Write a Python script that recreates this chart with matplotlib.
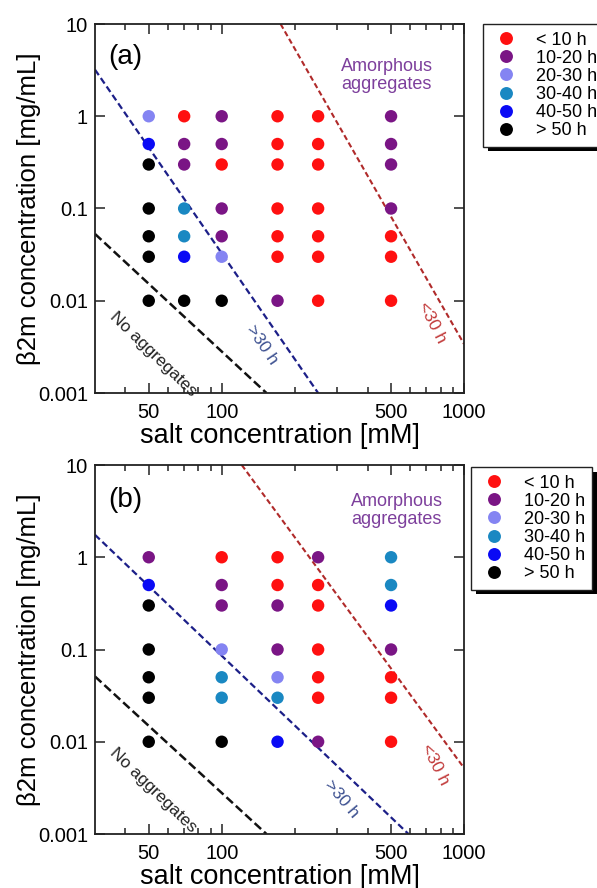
"""Aggregation phase diagrams of beta2m vs salt concentration, panels (a) and (b)."""
import matplotlib
matplotlib.use("Agg")
import matplotlib.pyplot as plt
from matplotlib.lines import Line2D
from matplotlib import ticker, patheffects

plt.rcParams["font.family"] = ["Liberation Sans", "DejaVu Sans"]

# lag-time classes
CLASS_LABELS = ["< 10 h", "10-20 h", "20-30 h", "30-40 h", "40-50 h", "> 50 h"]
CLASS_COLORS = ["#ff1010", "#7a1585", "#8484f2", "#1a88c2", "#0a0af5", "#000000"]

# protein concentrations (mg/mL), same rows for every salt level
protein = [1, 0.5, 0.3, 0.1, 0.05, 0.03, 0.01]

# panel (a): salt levels (mM) and class index per protein row
salt_a = [50, 70, 100, 170, 250, 500]
class_a = [
    [2, 4, 5, 5, 5, 5, 5],
    [0, 1, 1, 3, 3, 4, 5],
    [1, 1, 0, 1, 1, 2, 5],
    [0, 0, 0, 0, 0, 0, 1],
    [0, 0, 0, 0, 0, 0, 0],
    [1, 1, 1, 1, 0, 0, 0],
]

# panel (b)
salt_b = [50, 100, 170, 250, 500]
class_b = [
    [1, 4, 5, 5, 5, 5, 5],
    [0, 1, 1, 2, 3, 3, 5],
    [0, 0, 1, 1, 2, 3, 4],
    [1, 0, 0, 0, 0, 0, 1],
    [3, 3, 4, 1, 0, 0, 0],
]

# boundary lines, (salt endpoints, protein endpoints)
none_a = ([30, 153], [0.053, 0.001])
gt30_a = ([30, 250], [3.2, 0.001])
lt30_a = ([175, 1000], [10, 0.0034])
none_b = ([30, 153], [0.051, 0.001])
gt30_b = ([30, 590], [1.75, 0.001])
lt30_b = ([121, 1000], [10, 0.0052])

W, H = 597, 888
fig = plt.figure(figsize=(W / 100, H / 100), dpi=100)


def panel(top_px, salt, classes, lines, tag, txt_pos, leg_px):
    ax = fig.add_axes([95 / W, (H - top_px - 369) / H, 369 / W, 369 / H])
    ax.set_xscale("log")
    ax.set_yscale("log")
    ax.set_xlim(30, 1000)
    ax.set_ylim(0.001, 10)

    for k, col in enumerate(CLASS_COLORS):
        xs, ys = [], []
        for s, row in zip(salt, classes):
            for p, c in zip(protein, row):
                if c == k:
                    xs.append(s)
                    ys.append(p)
        ax.scatter(xs, ys, s=80, color=col, edgecolors="none", zorder=3)

    none, gt30, lt30 = lines
    ax.plot(*none, color="#111111", lw=1.8, ls=(0, (3.5, 1.6)), zorder=2)
    ax.plot(*gt30, color="#1c1f88", lw=1.6, ls=(0, (3.0, 1.6)), zorder=2)
    ax.plot(*lt30, color="#b02a2a", lw=1.5, ls=(0, (2.6, 1.5)), zorder=2)

    ax.text(0.035, tag[1], tag[0], transform=ax.transAxes, fontsize=20,
            ha="left", va="center")
    (ax_, ay_), (nx, ny), (gx, gy, grot), (lx, ly) = txt_pos
    ax.text(ax_, ay_, "Amorphous\naggregates", transform=ax.transAxes,
            fontsize=13, color="#7d3f9c", ha="center", va="center",
            linespacing=1.05)
    ax.text(nx, ny, "No aggregates", transform=ax.transAxes, fontsize=12.5,
            color="#222222", ha="center", va="center", rotation=-44)
    ax.text(gx, gy, ">30 h", transform=ax.transAxes, fontsize=12.5,
            color="#3c5090", ha="center", va="center", rotation=grot)
    ax.text(lx, ly, "<30 h", transform=ax.transAxes, fontsize=12.5,
            color="#c23a3a", ha="center", va="center", rotation=-63)

    ax.xaxis.set_major_locator(ticker.FixedLocator([50, 100, 500, 1000]))
    ax.xaxis.set_major_formatter(ticker.FixedFormatter(["50", "100", "500", "1000"]))
    ax.xaxis.set_minor_locator(ticker.FixedLocator(
        [40, 60, 70, 80, 90, 200, 300, 400, 600, 700, 800, 900]))
    ax.xaxis.set_minor_formatter(ticker.NullFormatter())
    ax.yaxis.set_major_locator(ticker.FixedLocator([0.001, 0.01, 0.1, 1, 10]))
    ax.yaxis.set_major_formatter(ticker.FixedFormatter(["0.001", "0.01", "0.1", "1", "10"]))
    ax.yaxis.set_minor_locator(ticker.NullLocator())
    ax.tick_params(which="both", direction="in", top=True, right=True,
                   labelsize=14.5, width=1.1, color="#222222")
    ax.tick_params(which="major", length=7)
    ax.tick_params(which="minor", length=4)
    ax.tick_params(axis="x", pad=7)
    ax.tick_params(axis="y", pad=5)
    for sp in ax.spines.values():
        sp.set_linewidth(1.3)
        sp.set_color("#222222")

    ax.set_xlabel("salt concentration [mM]", fontsize=19.5)
    ax.xaxis.set_label_coords(0.5, -0.08)
    ax.set_ylabel("β2m concentration [mg/mL]", fontsize=18.5)
    ax.yaxis.set_label_coords(-0.145, 0.5)

    handles = [Line2D([], [], ls="none", marker="o", markersize=9.3,
                      markerfacecolor=c, markeredgecolor="none")
               for c in CLASS_COLORS]
    leg = fig.legend(handles, CLASS_LABELS, loc="upper left",
                     bbox_to_anchor=(leg_px[0] / W, 1 - leg_px[1] / H),
                     fontsize=13, frameon=True, fancybox=False,
                     borderpad=0.42, labelspacing=0.06, handletextpad=0.75,
                     handlelength=1.75, borderaxespad=0)
    fr = leg.get_frame()
    fr.set_edgecolor("#222222")
    fr.set_linewidth(1.0)
    fr.set_alpha(1)
    fr.set_path_effects([
        patheffects.SimplePatchShadow(offset=(3.5, -3.5), shadow_rgbFace="k",
                                      alpha=1),
        patheffects.Normal()])
    return ax


panel(24, salt_a, class_a, (none_a, gt30_a, lt30_a), ("(a)", 0.91),
      ((0.79, 0.86), (0.157, 0.105), (0.452, 0.13, -56), (0.913, 0.19)),
      (483, 24))
panel(465, salt_b, class_b, (none_b, gt30_b, lt30_b), ("(b)", 0.905),
      ((0.817, 0.876), (0.157, 0.118), (0.668, 0.096, -50), (0.921, 0.188)),
      (471, 467))

fig.savefig("out.png", dpi=100)
